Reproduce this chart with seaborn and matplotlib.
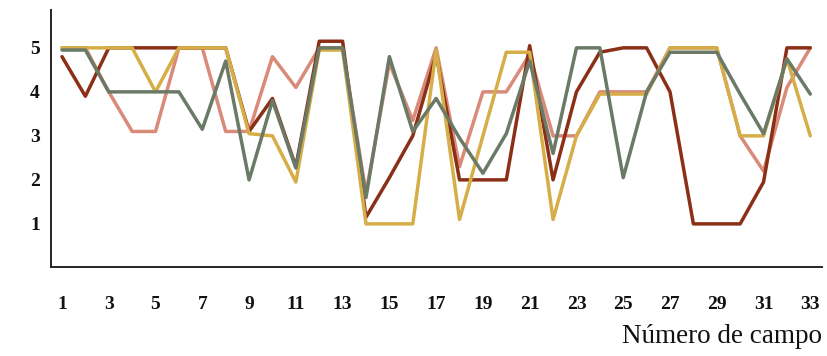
import numpy as np
import pandas as pd
import matplotlib
matplotlib.use("Agg")
import matplotlib.pyplot as plt
import seaborn as sns

campos = list(range(1, 34))
serie_rojo = [4.8, 3.9, 5, 5, 5, 5, 5, 5, 3.1, 3.85, 2.3, 5.15, 5.15, 1.15, 2.05, 3.0, 4.85,
              2, 2, 2, 5.05, 2, 4, 4.9, 5, 5, 4, 1, 1, 1, 1.95, 5, 5]
serie_salmon = [5, 5, 4, 3.1, 3.1, 5, 5, 3.1, 3.1, 4.8, 4.1, 5, 5, 1.7, 4.65, 3.35, 5,
                2.3, 4, 4, 4.85, 3, 3, 4, 4, 4, 5, 5, 5, 3, 2.2, 4.1, 5]
serie_oro = [5, 5, 5, 5, 4, 5, 5, 5, 3.05, 3, 1.95, 4.95, 4.95, 1, 1, 1, 4.95,
             1.1, 3, 4.9, 4.9, 1.1, 3, 3.95, 3.95, 3.95, 5, 5, 5, 3, 3, 4.75, 3]
serie_verde = [4.95, 4.95, 4, 4, 4, 4, 3.15, 4.7, 2, 3.8, 2.27, 5, 5, 1.6, 4.8, 3.1, 3.85,
               2.95, 2.15, 3.05, 4.7, 2.6, 5, 5, 2.05, 4, 4.9, 4.9, 4.9, 3.95, 3.05, 4.75, 3.95]
x_ticks = list(range(1, 34, 2))
y_ticks = [1, 2, 3, 4, 5]

series = {"salmon": serie_salmon, "rojo": serie_rojo, "oro": serie_oro, "verde": serie_verde}
colores = {"salmon": "#D98A78", "rojo": "#8C2F17", "oro": "#D6AE48", "verde": "#6A7A67"}

df = pd.concat([pd.DataFrame({"campo": campos, "valor": v, "serie": k}) for k, v in series.items()])

sns.set_style("white")
plt.rcParams["font.family"] = ["Liberation Serif", "DejaVu Serif"]

fig = plt.figure(figsize=(8.27, 3.56), dpi=100)
ax = fig.add_axes([51 / 827, 89 / 356, 771 / 827, 257 / 356])

sns.lineplot(data=df, x="campo", y="valor", hue="serie", palette=colores, ax=ax,
             linewidth=2.5, legend=False, sort=False, estimator=None)
for ln in ax.lines:
    ln.set_solid_joinstyle("round")
    ln.set_solid_capstyle("round")

ax.set_xlim(0.53, 33.5)
ax.set_ylim(0.02, 5.86)
ax.set_xticks(x_ticks)
ax.set_yticks(y_ticks)
ax.tick_params(axis="both", length=0, labelsize=14, colors="#111111")
ax.tick_params(axis="x", pad=21)
ax.tick_params(axis="y", pad=8)
for lab in ax.get_xticklabels() + ax.get_yticklabels():
    lab.set_fontweight("bold")
ax.set_ylabel("")
ax.set_xlabel("")
ax.text(1.0, -0.27, "Número de campo", transform=ax.transAxes, ha="right", va="center",
        fontsize=19.5, color="#111111")

for s in ["top", "right"]:
    ax.spines[s].set_visible(False)
for s in ["left", "bottom"]:
    ax.spines[s].set_color("#2a2222")
    ax.spines[s].set_linewidth(1.4)

fig.savefig("out.png", dpi=100)
